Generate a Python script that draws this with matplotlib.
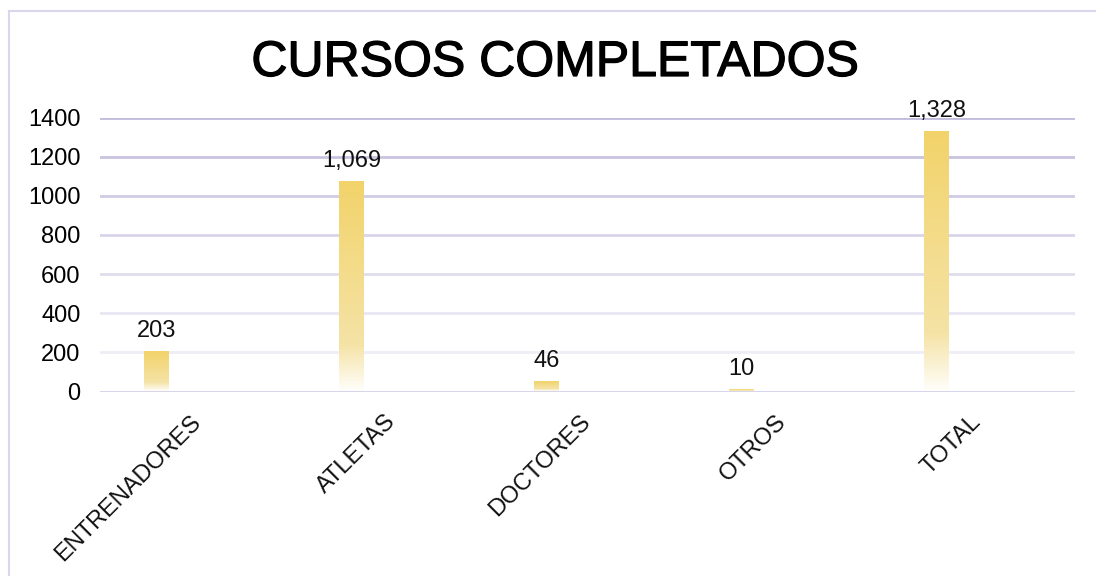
import numpy as np
import matplotlib
matplotlib.use("Agg")
import matplotlib.pyplot as plt
import matplotlib.patheffects as pe
from matplotlib.colors import LinearSegmentedColormap, to_rgb
from matplotlib.transforms import ScaledTranslation, blended_transform_factory
from matplotlib.patches import Rectangle

categories = ["ENTRENADORES", "ATLETAS", "DOCTORES", "OTROS", "TOTAL"]
values = [203, 1069, 46, 10, 1328]
yticks = [0, 200, 400, 600, 800, 1000, 1200, 1400]
title = "CURSOS COMPLETADOS"

plt.rcParams['font.family'] = ['Liberation Sans', 'DejaVu Sans']

W, H = 1096, 576
fig = plt.figure(figsize=(W / 100, H / 100), dpi=100)
fig.patch.set_facecolor("white")

# outer border (cut by the image edge on right/bottom)
fig.patches.append(Rectangle((9 / W, -0.05), 1.1, 1 - 11 / H + 0.05,
                             transform=fig.transFigure, fill=False,
                             edgecolor="#d9d6ee", linewidth=1.5))

left, right = 100 / W, 1075 / W
bottom, top = 1 - 391.5 / H, 1 - 117.5 / H
ax = fig.add_axes([left, bottom, right - left, top - bottom])
for s in ax.spines.values():
    s.set_visible(False)
ax.set_facecolor("none")

# gridlines with fading lavender tone
grid_top = np.array(to_rgb("#c2bbdc"))
grid_low = np.array(to_rgb("#efeef6"))
for yv in yticks:
    if yv == 0:
        c = "#d3d0e7"
    else:
        f = (yv - 200) / 1200
        c = tuple(grid_low + (grid_top - grid_low) * f)
    ax.axhline(yv, color=c, linewidth=2.0, zorder=1)

ax.set_yticks(yticks)
ax.set_yticklabels([str(v) for v in yticks], fontsize=17)
ax.tick_params(axis="y", length=0, pad=14)
ax.set_xticks([])

# gradient bars
cmap = LinearSegmentedColormap.from_list(
    "barfade", [(0.0, "#fffefa"), (0.22, "#f5e3a6"), (1.0, "#f2d36a")])
grad = np.linspace(0, 1, 256).reshape(-1, 1)
bar_w = 0.128
bar_off = -0.21
for i, v in enumerate(values):
    x0 = i + bar_off - bar_w / 2
    ax.imshow(grad, cmap=cmap, origin="lower", aspect="auto",
              extent=(x0, x0 + bar_w, 0, v), zorder=2, interpolation="bilinear")
    ax.annotate(f"{v:,}", (i + bar_off, v), xytext=(0, 7.2),
                textcoords="offset points", ha="center", va="bottom",
                fontsize=17, color="#111111", zorder=3, annotation_clip=False)
ax.set_xlim(-0.5, len(categories) - 0.5)
ax.set_ylim(0, 1400)

# rotated category labels
trans = blended_transform_factory(ax.transData, ax.transAxes)
off = ScaledTranslation(0, -27 / 100, fig.dpi_scale_trans)
for i, cat in enumerate(categories):
    ax.text(i, 0, cat, transform=trans + off, rotation=45,
            rotation_mode="anchor", ha="right", va="center",
            fontsize=17, color="#111111")

fig.text(555 / W, 1 - 76 / H, title, ha="center", va="baseline",
         fontsize=36, color="black",
         path_effects=[pe.withStroke(linewidth=0.9, foreground="black")])

fig.savefig("out.png", dpi=100)
